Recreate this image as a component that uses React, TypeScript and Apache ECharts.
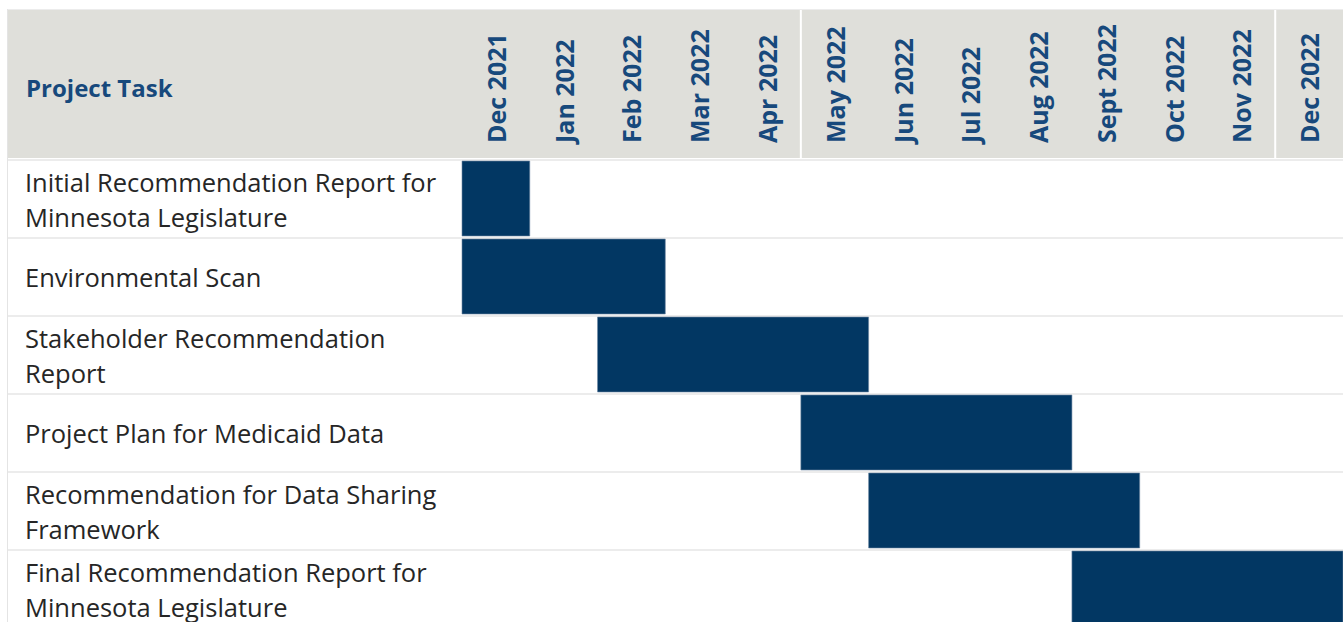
import React, { useEffect, useRef } from "react";
import * as echarts from "echarts";

const months = [
  "Dec 2021", "Jan 2022", "Feb 2022", "Mar 2022", "Apr 2022", "May 2022",
  "Jun 2022", "Jul 2022", "Aug 2022", "Sept 2022", "Oct 2022", "Nov 2022", "Dec 2022",
];

const tasks = [
  "Initial Recommendation Report for\nMinnesota Legislature",
  "Environmental Scan",
  "Stakeholder Recommendation\nReport",
  "Project Plan for Medicaid Data",
  "Recommendation for Data Sharing\nFramework",
  "Final Recommendation Report for\nMinnesota Legislature",
];

// start month index (inclusive) and end month index (exclusive)
const taskStart = [0, 0, 2, 5, 6, 9];
const taskEnd = [1, 3, 6, 9, 10, 13];

const headerTitle = "Project Task";
const dividerMonths = [5, 12];

const BAR = "#023763";
const HEAD_TEXT = "#17497c";
const HEAD_BG = "#dfdfda";
const FONT = "'Open Sans', sans-serif";

const GRID_LEFT = 462;
const GRID_TOP = 160;
const GRID_W = 881;
const ROW_H = 78;
const GRID_H = ROW_H * tasks.length;

export default function App() {
  const ref = useRef<HTMLDivElement>(null);
  useEffect(() => {
    if (!ref.current) return;
    const chart = echarts.init(ref.current, null, { renderer: "svg" });
    const colW = GRID_W / months.length;
    const barData = tasks.map((_, i) => [i, taskStart[i], taskEnd[i]]);
    chart.setOption({
      animation: false,
      textStyle: { fontFamily: FONT },
      graphic: [
        {
          type: "rect",
          z: -10,
          shape: { x: 8, y: 10, width: 1343 - 8, height: GRID_TOP - 12 },
          style: { fill: HEAD_BG },
          silent: true,
        },
        {
          type: "line",
          z: -9,
          shape: { x1: 7.5, y1: 9, x2: 7.5, y2: 640 },
          style: { stroke: "#e4e4e4", lineWidth: 1 },
          silent: true,
        },
        {
          type: "line",
          z: -9,
          shape: { x1: 8, y1: 9.5, x2: 1343, y2: 9.5 },
          style: { stroke: "#ececec", lineWidth: 1 },
          silent: true,
        },
        ...dividerMonths.map((m) => ({
          type: "line",
          z: -8,
          shape: {
            x1: GRID_LEFT + m * colW,
            y1: 10,
            x2: GRID_LEFT + m * colW,
            y2: GRID_TOP - 2,
          },
          style: { stroke: "#ffffff", lineWidth: 2 },
          silent: true,
        })),
        {
          type: "text",
          x: 26,
          y: 87,
          style: {
            text: headerTitle,
            font: `bold 24px ${FONT}`,
            fill: HEAD_TEXT,
            textVerticalAlign: "middle",
            textAlign: "left",
          },
        },
      ],
      grid: [
        {
          left: 8,
          top: GRID_TOP,
          width: GRID_LEFT - 8,
          height: GRID_H,
          outerBoundsMode: "none",
          containLabel: false,
        },
        {
          left: GRID_LEFT,
          top: GRID_TOP,
          width: GRID_W,
          height: GRID_H,
          outerBoundsMode: "none",
          containLabel: false,
        },
      ],
      xAxis: [
        { gridIndex: 0, type: "value", show: false, min: 0, max: 1 },
        { gridIndex: 1, type: "value", show: false, min: 0, max: months.length },
        {
          gridIndex: 1,
          type: "category",
          data: months,
          position: "top",
          boundaryGap: true,
          axisLine: { show: false },
          axisTick: { show: false },
          splitLine: { show: false },
          axisLabel: {
            interval: 0,
            rotate: -90,
            margin: 17,
            fontSize: 25,
            fontWeight: "bold",
            color: HEAD_TEXT,
            fontFamily: FONT,
          },
        },
      ],
      yAxis: [
        {
          gridIndex: 0,
          type: "category",
          data: tasks,
          inverse: true,
          axisLine: { show: false },
          axisTick: { show: false },
          splitLine: { show: true, lineStyle: { color: "#ececec", width: 2 } },
          axisLabel: {
            inside: true,
            margin: 17,
            align: "left",
            fontSize: 25.5,
            lineHeight: 35,
            color: "#262626",
            fontFamily: FONT,
          },
        },
        {
          gridIndex: 1,
          type: "category",
          data: tasks,
          inverse: true,
          axisLine: { show: false },
          axisTick: { show: false },
          axisLabel: { show: false },
          splitLine: { show: true, lineStyle: { color: "#ececec", width: 2 } },
        },
      ],
      series: [
        {
          type: "custom",
          xAxisIndex: 1,
          yAxisIndex: 1,
          encode: { x: [1, 2], y: 0 },
          data: barData,
          renderItem: (params: any, api: any) => {
            const row = api.value(0);
            const s = api.coord([api.value(1), row]);
            const e = api.coord([api.value(2), row]);
            const h = api.size([0, 1])[1];
            return {
              type: "rect",
              shape: { x: s[0], y: s[1] - h / 2 + 1, width: e[0] - s[0], height: h - 3 },
              style: { fill: BAR, stroke: "#6f88a3", lineWidth: 0.6 },
            };
          },
        },
      ],
    });
    return () => chart.dispose();
  }, []);
  return (
    <div
      ref={ref}
      style={{ position: "absolute", left: 0, top: 0, width: 1343, height: 622, background: "#fff" }}
    />
  );
}
